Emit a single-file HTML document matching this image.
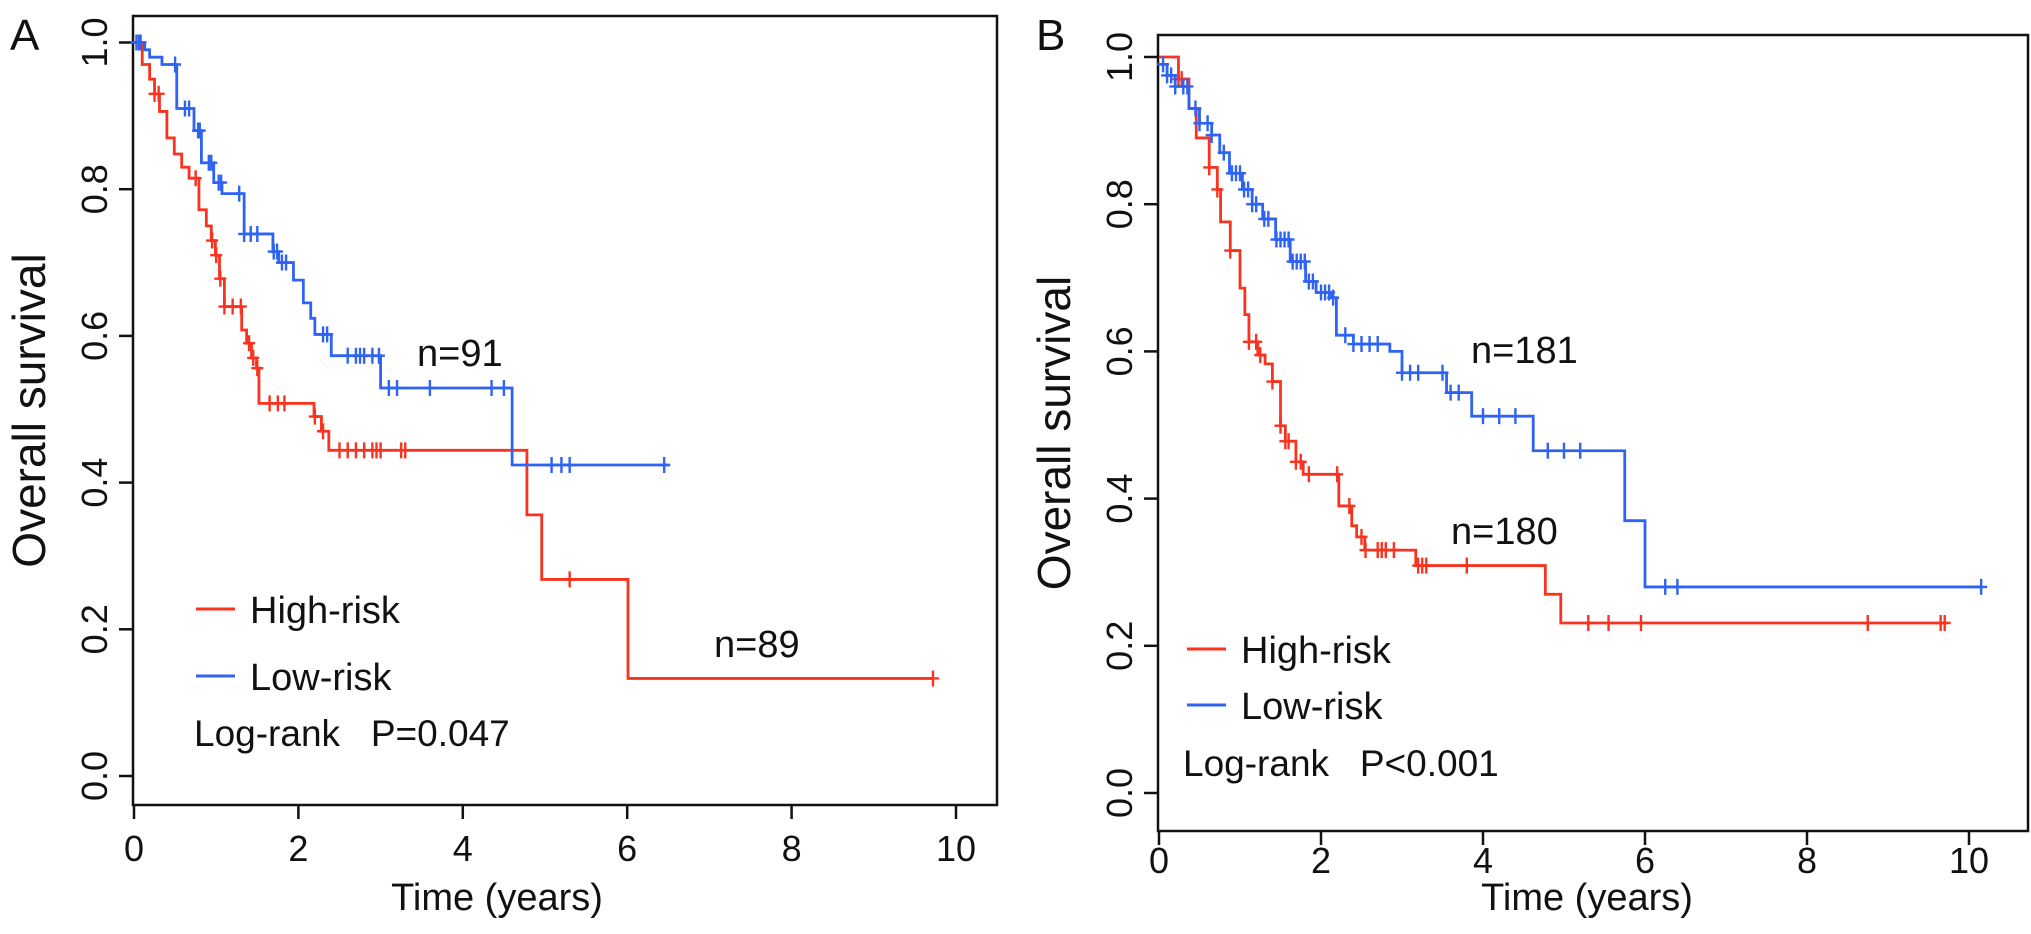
<!DOCTYPE html>
<html><head><meta charset="utf-8"><style>
body{margin:0;background:#fff}
svg{display:block}
text{font-family:"Liberation Sans",sans-serif;fill:#111}
</style></head><body>
<svg id="fig" width="2031" height="934" viewBox="0 0 2031 934"></svg>
<script>
// Panel A data
const aLowT=[0,0.13,0.19,0.34,0.52,0.73,0.82,0.97,1.07,1.34,1.69,1.76,1.94,2.06,2.15,2.2,2.4,3.0,4.6];
const aLowS=[1,0.99,0.98,0.97,0.91,0.88,0.836,0.809,0.794,0.739,0.715,0.70,0.676,0.645,0.624,0.602,0.573,0.529,0.424];
const aLowEnd=6.51;
const aLowCens=[0.03,0.06,0.08,0.5,0.62,0.67,0.78,0.8,0.91,0.94,1.03,1.06,1.28,1.34,1.42,1.5,1.7,1.74,1.8,1.85,2.3,2.35,2.6,2.7,2.75,2.8,2.9,2.98,3.1,3.2,3.6,4.35,4.5,5.08,5.2,5.3,6.45];
const aHighT=[0,0.1,0.19,0.25,0.31,0.4,0.49,0.58,0.67,0.79,0.88,0.94,0.99,1.04,1.1,1.31,1.37,1.43,1.49,1.52,2.19,2.28,2.37,4.78,4.96,6.01];
const aHighS=[1,0.97,0.95,0.93,0.906,0.87,0.848,0.83,0.815,0.772,0.75,0.73,0.71,0.678,0.64,0.608,0.59,0.57,0.556,0.508,0.49,0.47,0.444,0.356,0.268,0.133];
const aHighEnd=9.72;
const aHighCens=[0.25,0.3,0.75,0.95,1.0,1.05,1.1,1.2,1.3,1.4,1.45,1.5,1.65,1.75,1.83,2.2,2.3,2.5,2.6,2.7,2.8,2.9,2.95,3.0,3.25,3.3,5.3,9.72];
// Panel B data
const bLowT=[0,0.1,0.2,0.37,0.5,0.65,0.75,0.87,1.03,1.15,1.28,1.44,1.62,1.81,1.94,2.13,2.19,2.4,2.85,3.0,3.55,3.86,4.62,5.75,6.0];
const bLowS=[0.99,0.975,0.96,0.93,0.91,0.894,0.87,0.842,0.82,0.80,0.78,0.752,0.722,0.695,0.68,0.673,0.622,0.61,0.60,0.571,0.544,0.512,0.465,0.37,0.28];
const bLowEnd=10.15;
const bLowCens=[0.05,0.1,0.15,0.2,0.3,0.35,0.45,0.5,0.6,0.65,0.8,0.9,0.95,1.0,1.05,1.1,1.15,1.2,1.3,1.35,1.45,1.5,1.55,1.6,1.65,1.7,1.75,1.8,1.85,1.9,2.0,2.05,2.1,2.15,2.3,2.4,2.5,2.6,2.7,3.0,3.1,3.2,3.5,3.6,3.7,4.0,4.2,4.4,4.8,5.0,5.2,6.25,6.4,10.15];
const bHighT=[0,0.24,0.37,0.46,0.62,0.72,0.76,0.88,1.0,1.06,1.11,1.22,1.31,1.4,1.5,1.56,1.69,1.78,2.22,2.38,2.44,2.54,3.17,4.77,4.96];
const bHighS=[1,0.97,0.93,0.89,0.85,0.82,0.776,0.737,0.686,0.65,0.613,0.595,0.583,0.559,0.499,0.478,0.45,0.433,0.39,0.363,0.348,0.33,0.309,0.27,0.231];
const bHighEnd=9.74;
const bHighCens=[0.24,0.28,0.62,0.72,0.88,1.11,1.2,1.25,1.4,1.5,1.56,1.6,1.69,1.75,1.85,2.2,2.35,2.5,2.55,2.7,2.75,2.8,2.9,3.2,3.25,3.3,3.8,5.3,5.55,5.95,8.75,9.65,9.7];
const xTicks=[0,2,4,6,8,10];
const yTicks=[0,0.2,0.4,0.6,0.8,1.0];
const yTickLabels=["0.0","0.2","0.4","0.6","0.8","1.0"];

const NS="http://www.w3.org/2000/svg";
const svg=document.getElementById('fig');
function mk(tag,attrs,parent){const e=document.createElementNS(NS,tag);for(const k in attrs)e.setAttribute(k,attrs[k]);(parent||svg).appendChild(e);return e;}
const RED="#f8331f", BLUE="#2f63f2";

function panel(cfg){
  const g=mk('g',{});
  
  
  const X=t=>cfg.x0+t*(cfg.x10-cfg.x0)/10;
  const Y=s=>cfg.y0-s*(cfg.y0-cfg.y1);
  const box=mk('rect',{x:cfg.bl,y:cfg.bt,width:cfg.br-cfg.bl,height:cfg.bb-cfg.bt,fill:'none',stroke:'#111','stroke-width':2.5},g);
  
  
  xTicks.forEach(v=>{
    const l=mk('line',{x1:X(v),x2:X(v),y1:cfg.bb,y2:cfg.bb+14,stroke:'#111','stroke-width':2.5},g);
    
    
    const t=mk('text',{x:X(v),y:cfg.tickY,'font-size':36,'text-anchor':'middle'},g);
    t.textContent=v;
    
    
  });
  yTicks.forEach((v,i)=>{
    const l=mk('line',{x1:cfg.bl,x2:cfg.bl-14,y1:Y(v),y2:Y(v),stroke:'#111','stroke-width':2.5},g);
    
    
    const t=mk('text',{x:0,y:0,'font-size':36,'text-anchor':'middle',transform:`translate(${cfg.bl-26},${Y(v)}) rotate(-90)`},g);
    t.textContent=yTickLabels[i];
    
    
  });
  const xt=mk('text',{x:cfg.titleX,y:cfg.titleY,'font-size':38,'text-anchor':'middle'},g);
  xt.textContent='Time (years)';
  
  
  const yt=mk('text',{x:0,y:0,'font-size':46,'text-anchor':'middle',transform:`translate(${cfg.bl-88},${(cfg.bt+cfg.bb)/2}) rotate(-90)`},g);
  yt.textContent='Overall survival';
  
  
  const lab=mk('text',{x:cfg.labX,y:cfg.labY,'font-size':44},g);
  lab.textContent=cfg.label;
  
  

  function curve(T,S,end,cens,color,name){
    let d=`M${X(T[0])},${Y(S[0])}`;
    for(let i=1;i<T.length;i++){d+=`H${X(T[i])}V${Y(S[i])}`;}
    d+=`H${X(end)}`;
    const p=mk('path',{d:d,fill:'none',stroke:color,'stroke-width':2.8},g);
    
    
    const sAt=t=>{let s=S[0];for(let i=0;i<T.length;i++){if(T[i]<=t)s=S[i];}return s;};
    cens.forEach(c=>{
      const y=Y(sAt(c)),x=X(c);
      const m=mk('path',{d:`M${x},${y-8}V${y+8}M${x-6},${y}H${x+6}`,stroke:color,'stroke-width':2.4,fill:'none'},g);
      
      
    });
  }
  curve(cfg.highT,cfg.highS,cfg.highEnd,cfg.highC,RED,'high-risk');
  curve(cfg.lowT,cfg.lowS,cfg.lowEnd,cfg.lowC,BLUE,'low-risk');

  [[RED,'High-risk',cfg.legY1,'legend-high-risk'],[BLUE,'Low-risk',cfg.legY2,'legend-low-risk']].forEach(a=>{
    const l=mk('line',{x1:cfg.legX,x2:cfg.legX+39,y1:a[2],y2:a[2],stroke:a[0],'stroke-width':3},g);
    
    
    const t=mk('text',{x:cfg.legX+54,y:a[2]+14,'font-size':38},g);
    t.textContent=a[1];
    
    
  });
  const lr=mk('text',{x:cfg.lrX,y:cfg.lrY+13,'font-size':37},g);
  lr.textContent=cfg.lr;
  
  
  cfg.ns.forEach(n=>{
    const t=mk('text',{x:n[0],y:n[1]+13,'font-size':38},g);
    t.textContent=n[2];
    
    
  });
}

panel({id:'a',label:'A',labX:10,labY:50,bl:133,br:997,bt:16,bb:805,x0:134,x10:956,y0:776,y1:42.5,tickY:861,titleY:910,titleX:497,
  lowT:aLowT,lowS:aLowS,lowEnd:aLowEnd,lowC:aLowCens,highT:aHighT,highS:aHighS,highEnd:aHighEnd,highC:aHighCens,
  legX:196,legY1:609,legY2:676,lrX:194,lrY:733,lr:'Log-rank\u00a0\u00a0\u00a0P=0.047',
  ns:[[417,353,'n=91'],[714,644,'n=89']]});
panel({id:'b',label:'B',labX:1036,labY:50,bl:1158,br:2028,bt:35,bb:831,x0:1159,x10:1969,y0:793,y1:57,tickY:873,titleY:910,titleX:1587,
  lowT:bLowT,lowS:bLowS,lowEnd:bLowEnd,lowC:bLowCens,highT:bHighT,highS:bHighS,highEnd:bHighEnd,highC:bHighCens,
  legX:1187,legY1:649,legY2:705,lrX:1183,lrY:763,lr:'Log-rank\u00a0\u00a0\u00a0P<0.001',
  ns:[[1471,350,'n=181'],[1451,531,'n=180']]});
</script>
</body></html>
